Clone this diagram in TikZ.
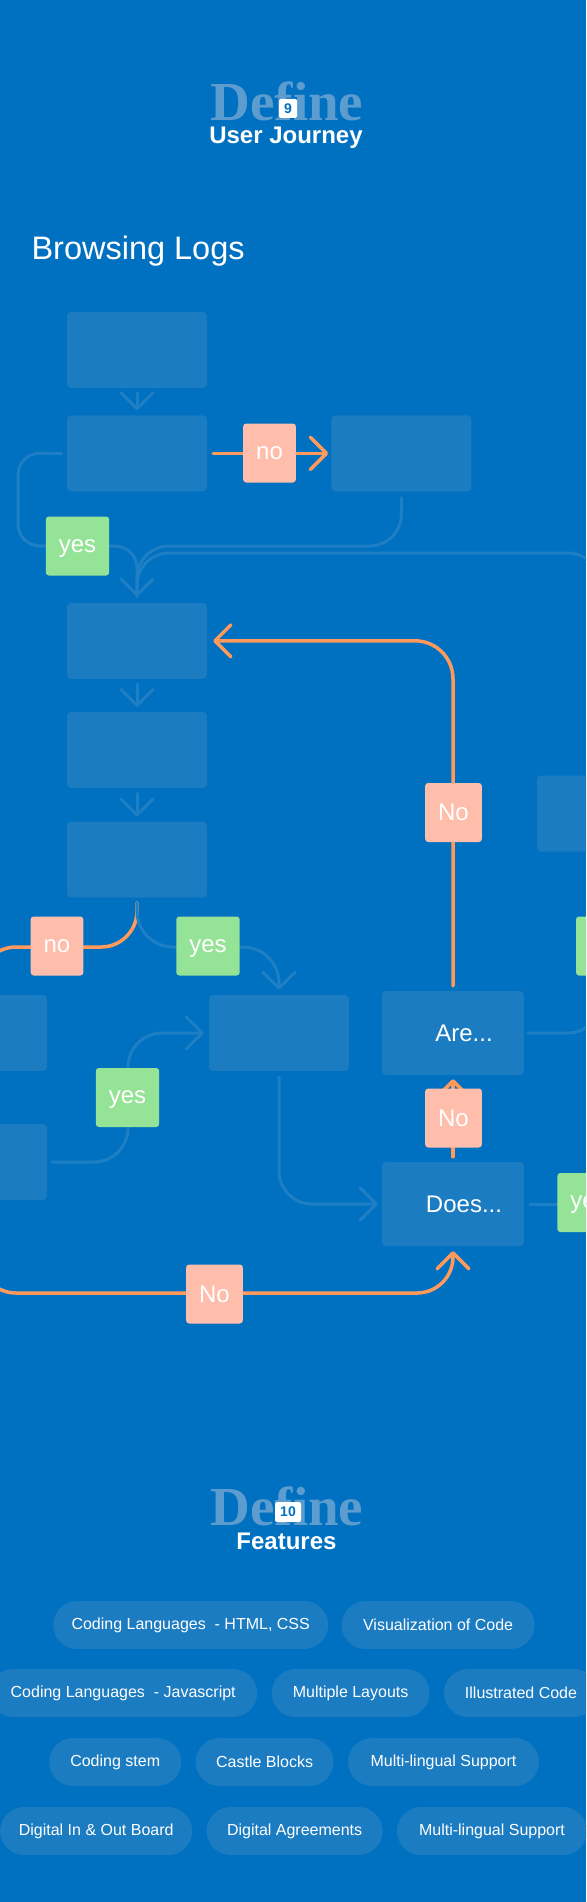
\documentclass[tikz,border=0pt]{standalone}
\usepackage{fontspec}
\setmainfont{Liberation Sans}
\newfontfamily\dispserif{Liberation Serif}
\usetikzlibrary{arrows.meta,positioning}
\definecolor{pagebg}{HTML}{0070C0}
\definecolor{boxblue}{HTML}{1C7CC2}
\definecolor{lineblue}{HTML}{1E7FC5}
\definecolor{flowor}{HTML}{FF9A5C}
\definecolor{tagno}{HTML}{FFBDAB}
\definecolor{tagyes}{HTML}{95E396}
\definecolor{ghost}{HTML}{5C9CCF}
\begin{document}
\begin{tikzpicture}[x=1pt, y=-1pt, every node/.style={text=white, font=\fontsize{24}{28}\selectfont},
    box/.style={rectangle, fill=boxblue, rounded corners=4pt, minimum width=140, minimum height=76, inner sep=0pt},
    qbox/.style={box, minimum width=142, minimum height=84},
    tag/.style={rectangle, rounded corners=3pt, minimum height=59, inner xsep=13pt, inner ysep=0pt, text depth=0pt},
    notag/.style={tag, fill=tagno},
    yestag/.style={tag, fill=tagyes},
    pill/.style={rectangle, fill=boxblue, rounded corners=24pt, minimum height=48, inner sep=0pt, font=\fontsize{16}{19}\selectfont},
    ghosttitle/.style={text=ghost, anchor=base, font=\dispserif\bfseries\fontsize{55}{55}\selectfont},
    badge/.style={fill=white, rounded corners=1.5pt, inner sep=0pt, text=pagebg, font=\bfseries\fontsize{14}{14}\selectfont},
    bline/.style={draw=lineblue, line width=3pt, line cap=round, rounded corners=32pt},
    oline/.style={draw=flowor, line width=3.5pt, line cap=round, rounded corners=34pt},
    headed/.style={-{Straight Barb[length=16pt, width=32pt, round]}}]
    \useasboundingbox (0,0) rectangle (586,1902);
    \clip (0,0) rectangle (586,1902);
    \fill[pagebg] (0,0) rectangle (586,1902);

    \node[ghosttitle] (def1) at (287,121) {Define};
    \node[badge, minimum width=18, minimum height=19] (num1) at (288,108.5) {9};
    \node[anchor=base, font=\bfseries\fontsize{24}{24}\selectfont] (ttl1) at (286,144) {User Journey};
    \node[anchor=base west, font=\fontsize{32.5}{33}\selectfont] (sect) at (28,259) {Browsing Logs};

    \node[box] (b1) at (137,350) {};
    \node[box, below=27pt of b1] (b2) {};
    \node[box, right=124pt of b2] (b3) {};
    \node[box, below=111pt of b2] (b4) {};
    \node[box, below=33pt of b4] (b5) {};
    \node[box, below=33pt of b5] (b6) {};
    \node[box] (bR) at (607,813.5) {};
    \node[box] (bA) at (-23,1033) {};
    \node[box] (b7) at (279,1033) {};
    \node[qbox, label={[xshift=11pt]center:Are...}] (are) at (453,1033) {};
    \node[box] (bB) at (-23,1162) {};
    \node[qbox, label={[xshift=11pt]center:Does...}] (does) at (453,1204) {};
    \coordinate (offR) at (600,1204);

    \draw[bline, headed] ([yshift=-5pt]b1.south) -- ([yshift=5pt]b2.north);
    \draw[oline, headed] ([xshift=6pt]b2.east) -- ([xshift=-3pt]b3.west);
    \draw[bline, rounded corners=22pt] ([xshift=-5pt]b2.west) -- (18,453) -- (18,546) -- (137,546) -- ([yshift=6pt]b4.north);
    \draw[bline] ([xshift=4pt]are.east) -- (600,1033) -- (600,553) -- (137,553) -- ([yshift=6pt]b4.north);
    \draw[bline, headed] ([yshift=-6pt]b3.south) -- (401.5,546) -- (137,546) -- ([yshift=6pt]b4.north);
    \draw[bline, headed] ([yshift=-5pt]b4.south) -- ([yshift=5pt]b5.north);
    \draw[bline, headed] ([yshift=-5pt]b5.south) -- ([yshift=5pt]b6.north);
    \draw[oline, rounded corners=38pt, headed] ([yshift=5pt]are.north) |- ([xshift=6pt]b4.east);
    \draw[oline, rounded corners=36pt, headed] ([yshift=-5pt]b6.south) -- (137,947) -- (-20,947) -- (-20,1293) -- (453,1293) -- ([yshift=-5pt]does.south);
    \draw[bline, rounded corners=36pt, headed] ([yshift=-5pt]b6.south) -- (137,947) -- (279,947) -- ([yshift=5pt]b7.north);
    \draw[bline, rounded corners=34pt, headed] ([xshift=5pt]bB.east) -- (128,1162) -- (128,1033) -- ([xshift=-5pt]b7.west);
    \draw[bline, rounded corners=33pt, headed] ([yshift=-6pt]b7.south) |- ([xshift=-4pt]does.west);
    \draw[oline, headed] ([yshift=5pt]does.north) -- ([yshift=-4pt]are.south);
    \draw[bline] ([xshift=6pt]does.east) -- (offR);

    \node[notag] (lno1) at (269.5,453) {no};
    \node[yestag] (lyes1) at (77.5,546) {yes};
    \node[notag] (lno2) at (453.5,812.5) {No};
    \node[notag] (lno3) at (57,946) {no};
    \node[yestag] (lyes2) at (208,946) {yes};
    \node[yestag, minimum width=64] (lyes3) at (608,946) {};
    \node[yestag] (lyes4) at (127.5,1097.5) {yes};
    \node[notag] (lno4) at (453.5,1118) {No};
    \node[yestag] (lyes5) at (589,1202.5) {yes};
    \node[notag] (lno5) at (214.5,1294) {No};

    \node[ghosttitle] (def2) at (287,1525) {Define};
    \node[badge, minimum width=26, minimum height=20] (num2) at (288,1512) {10};
    \node[anchor=base, font=\bfseries\fontsize{24}{24}\selectfont] (ttl2) at (286.5,1549) {Features};

    \node[pill, minimum width=275, anchor=west] (f1) at (53,1625) {Coding Languages~ - HTML, CSS};
    \node[pill, minimum width=193, right=13pt of f1] (f2) {Visualization of Code};
    \node[pill, minimum width=268, anchor=west] (f3) at (-11,1693) {Coding Languages~ - Javascript};
    \node[pill, minimum width=158, right=14pt of f3] (f4) {Multiple Layouts};
    \node[pill, minimum width=154, right=14pt of f4] (f5) {Illustrated Code};
    \node[pill, minimum width=132, anchor=west] (f6) at (49,1762) {Coding stem};
    \node[pill, minimum width=138, right=14pt of f6] (f7) {Castle Blocks};
    \node[pill, minimum width=191, right=14pt of f7] (f8) {Multi-lingual Support};
    \node[pill, minimum width=192, anchor=west] (f9) at (0,1831) {Digital In \& Out Board};
    \node[pill, minimum width=176, right=14pt of f9] (f10) {Digital Agreements};
    \node[pill, minimum width=190, right=14pt of f10] (f11) {Multi-lingual Support};
\end{tikzpicture}
\end{document}
